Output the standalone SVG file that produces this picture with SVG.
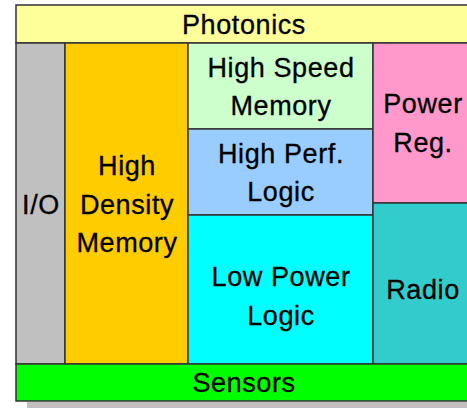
<svg xmlns="http://www.w3.org/2000/svg" width="467" height="408" viewBox="0 0 467 408">
<style>
rect.b{stroke:#333;stroke-width:1.5}
text{font-family:"Liberation Sans",Arial,sans-serif;font-size:27px;letter-spacing:0.6px;fill:#000;stroke:#000;stroke-width:0.3;text-anchor:middle}
</style>
<rect x="0" y="0" width="467" height="408" fill="#fff"/>
<rect x="27" y="402" width="460" height="8" fill="#c0c0c0"/>
<g id="photonics"><rect class="b" x="16" y="5" width="458" height="38" fill="#ffff99"/><text x="244" y="34">Photonics</text></g>
<g id="io"><rect class="b" x="16" y="43" width="49" height="321" fill="#c0c0c0"/><text x="41" y="214">I/O</text></g>
<g id="hdm"><rect class="b" x="65" y="43" width="123" height="321" fill="#ffcc00"/><text x="127" y="175">High</text><text x="127" y="214">Density</text><text x="127" y="252">Memory</text></g>
<g id="hsm"><rect class="b" x="188" y="43" width="185" height="86" fill="#ccffcc"/><text x="281" y="77">High Speed</text><text x="281" y="115">Memory</text></g>
<g id="hpl"><rect class="b" x="188" y="129" width="185" height="86" fill="#99ccff"/><text x="281" y="163">High Perf.</text><text x="281" y="201">Logic</text></g>
<g id="lpl"><rect class="b" x="188" y="215" width="185" height="149" fill="#00ffff"/><text x="281" y="286">Low Power</text><text x="281" y="325">Logic</text></g>
<g id="preg"><rect class="b" x="373" y="43" width="101" height="160" fill="#ff99cc"/><text x="423" y="113">Power</text><text x="423" y="152">Reg.</text></g>
<g id="radio"><rect class="b" x="373" y="203" width="101" height="161" fill="#33cccc"/><text x="423" y="299">Radio</text></g>
<g id="sensors"><rect class="b" x="16" y="364" width="458" height="37" fill="#00ff00"/><text x="244" y="392">Sensors</text></g>
<g id="connectors"/>
</svg>
